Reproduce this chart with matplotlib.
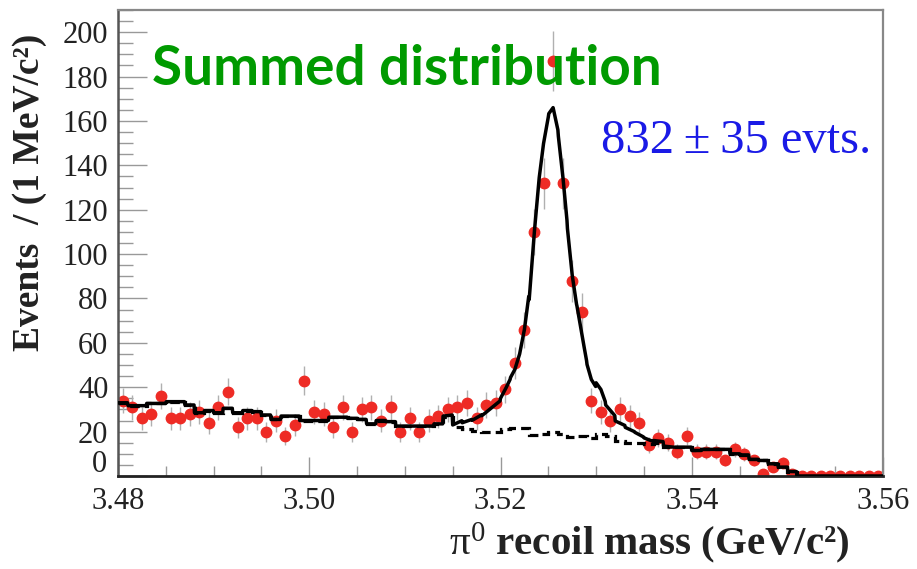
import matplotlib
matplotlib.use("Agg")
import matplotlib.pyplot as plt
import numpy as np
from matplotlib.ticker import MultipleLocator

# 1 MeV bins from 3.480 to 3.560 GeV
bin_lo = 3.480
bin_w = 0.001
counts = [34, 31, 26, 28, 36, 26, 26, 28, 29, 24,
          31, 38, 22, 26, 26, 20, 25, 18, 23, 43,
          29, 28, 22, 31, 20, 30, 31, 25, 31, 20,
          26, 20, 25, 27, 30, 31, 33, 26, 32, 33,
          39, 51, 66, 110, 132, 187, 132, 88, 74, 34,
          29, 25, 30, 27, 24, 14, 17, 15, 11, 18,
          11, 11, 11, 7, 12, 10, 7, 1, 4, 6,
          1, 0, 0, 0, 0, 0, 0, 0, 0, 0]

# background shape (dashed histogram), same binning
bkg = [33, 31.7, 31.7, 32.7, 32.7, 33.5, 33.5, 32, 28.5, 29.5,
       28.5, 30.5, 28.5, 29.5, 29, 27.5, 25.5, 27, 27, 25,
       25, 25, 26.5, 26.5, 26, 25.5, 23.5, 25, 24.5, 22.5,
       22.5, 22.5, 22.5, 23.5, 26.5, 22, 21, 20.5, 20, 20,
       21, 21.5, 21.5, 18.5, 18.8, 20, 19, 17.5, 18, 17,
       19, 18, 15.8, 15, 14.8, 14.5, 15, 13, 13, 13,
       11.5, 12, 12, 12, 10, 9.5, 7.5, 7, 5.5, 4,
       2, 0, 0, 0, 0, 0, 0, 0, 0, 0]

# signal component of the fit (fit minus background)
sig_x = [3.5140, 3.5150, 3.5160, 3.5170, 3.5180, 3.5190, 3.5200, 3.5205,
         3.5210, 3.5215, 3.5220, 3.5225, 3.5230, 3.5235, 3.5240, 3.5245,
         3.5250, 3.5255, 3.5260, 3.5265, 3.5270, 3.5275, 3.5280, 3.5285,
         3.5290, 3.5295, 3.5300, 3.5305, 3.5310, 3.5320, 3.5330, 3.5340,
         3.5350, 3.5360, 3.5370, 3.5380]
sig_y = [0.5, 1, 3, 4.5, 7, 10.5, 14, 18,
         22.5, 26.5, 33.5, 44.5, 61, 89.5, 114, 131,
         143, 146, 136, 117, 94, 73, 58.5, 46,
         34, 26.5, 23, 20, 14, 9, 7, 5,
         2.7, 1, 0.5, 0]

title_txt = "Summed distribution"
yield_txt = "832\u2009±\u200935 evts."

counts = np.array(counts, dtype=float)
bkg = np.array(bkg, dtype=float)
edges = bin_lo + bin_w * np.arange(len(counts) + 1)
centers = edges[:-1] + bin_w / 2

# total fit on a fine grid: step background + smooth signal
xf = np.linspace(edges[0], edges[-1], 1601)
idx = np.clip(((xf - bin_lo) / bin_w).astype(int), 0, len(bkg) - 1)
total = bkg[idx] + np.interp(xf, sig_x, sig_y, left=0, right=0)

plt.rcParams["mathtext.fontset"] = "custom"
plt.rcParams["mathtext.rm"] = "Liberation Serif"
fig = plt.figure(figsize=(9.17, 5.69), dpi=100)
ax = fig.add_axes([118 / 917, 1 - 476 / 569, (883 - 118) / 917, (476 - 10) / 569])

ax.errorbar(centers, counts, yerr=np.sqrt(counts), fmt="o", color="#ee2b25",
            ms=7.5, ecolor="#b0b0b0", elinewidth=1.0, capsize=0, zorder=2)
ax.stairs(bkg, edges, baseline=None, color="black", lw=2.3,
          ls=(0, (3, 1.6)), zorder=3)
ax.plot(xf, total, color="black", lw=2.5, zorder=4)

ax.set_xlim(3.48, 3.56)
ax.set_ylim(0, 210)
ax.xaxis.set_major_locator(MultipleLocator(0.02))
ax.xaxis.set_minor_locator(MultipleLocator(0.005))
ax.yaxis.set_major_locator(MultipleLocator(20))
ax.yaxis.set_minor_locator(MultipleLocator(5))
ax.tick_params(which="both", direction="in", colors="#999999",
               labelcolor="#222222", labelsize=22, top=False, right=False)
ax.tick_params(axis="x", which="major", length=14, width=1, pad=8)
ax.tick_params(axis="x", which="minor", length=7, width=1)
ax.tick_params(axis="y", which="major", length=21, width=1, pad=7)
ax.tick_params(axis="y", which="minor", length=11, width=1)
ax.xaxis.set_major_formatter(plt.FuncFormatter(lambda v, p: f"{v:.2f}"))
# "0" is drawn separately, a little higher, so it clears "3.48"
ax.yaxis.set_major_formatter(plt.FuncFormatter(lambda v, p: "" if v == 0 else f"{v:.0f}"))
for lab in ax.get_xticklabels() + ax.get_yticklabels():
    lab.set_family("Liberation Serif")
fig.text(107 / 917, 1 - 465 / 569, "0", ha="right", va="center", fontsize=22,
         family="Liberation Serif", color="#222222")

for side in ["top", "right"]:
    ax.spines[side].set_color("#888888")
    ax.spines[side].set_linewidth(1.6)
ax.spines["left"].set_color("#555555")
ax.spines["left"].set_linewidth(1.8)
ax.spines["bottom"].set_color("#222222")
ax.spines["bottom"].set_linewidth(2.0)

fig.text(30 / 917, 1 - 192 / 569, "Events  / (1 MeV/c²)", rotation=90,
         ha="center", va="center", fontsize=27, fontweight="bold",
         family="Liberation Serif", color="#222222")
fig.text(649 / 917, 1 - 555 / 569, r"$\mathrm{\pi^0}$ recoil mass (GeV/c²)",
         ha="center", va="baseline", fontsize=29.5, fontweight="bold",
         family="Liberation Serif", color="#222222")

fig.text(152 / 917, 1 - 85 / 569, title_txt, ha="left", va="baseline",
         fontsize=39.5, fontweight="bold", family="Lato", color="#009a00")
fig.text(601 / 917, 1 - 153 / 569, yield_txt, ha="left", va="baseline",
         fontsize=35, family="Liberation Serif", color="#1a1ae6")

fig.savefig("out.png", dpi=100)
